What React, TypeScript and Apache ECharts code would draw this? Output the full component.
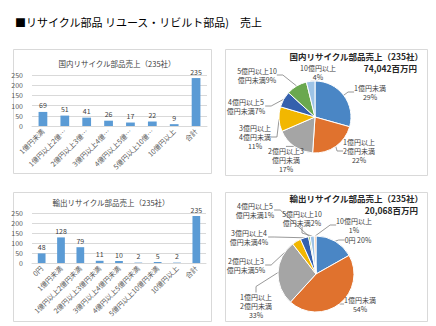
import React, { useEffect, useRef } from "react";
import * as echarts from "echarts";

const pageTitle = "■リサイクル部品 リユース・リビルト部品)　売上";

const domesticTitle = "国内リサイクル部品売上（235社）";
const domesticTotalText = "74,042百万円";
const domesticCategories = [
  "1億円未満",
  "1億円以上2億円未満",
  "2億円以上3億円未満",
  "3億円以上4億円未満",
  "4億円以上5億円未満",
  "5億円以上10億円未満",
  "10億円以上",
  "合計",
];
const domesticCounts = [69, 51, 41, 26, 17, 22, 9, 235];
const domesticPieLabels = [
  "1億円未満\n",
  "1億円以上\n2億円未満\n",
  "2億円以上3\n億円未満\n",
  "3億円以上\n4億円未満\n",
  "4億円以上5\n億円未満",
  "5億円以上10\n億円未満",
  "10億円以上\n",
];
const domesticPct = [29, 22, 17, 11, 7, 9, 4];

const exportTitle = "輸出リサイクル部品売上（235社）";
const exportTotalText = "20,068百万円";
const exportCategories = [
  "0円",
  "1億円未満",
  "1億円以上2億円未満",
  "2億円以上3億円未満",
  "3億円以上4億円未満",
  "4億円以上5億円未満",
  "5億円以上10億円未満",
  "10億円以上",
  "合計",
];
const exportCounts = [48, 128, 79, 11, 10, 2, 5, 2, 235];
const exportPieLabels = [
  "0円 ",
  "1億円未満\n",
  "1億円以上\n2億円未満\n",
  "2億円以上3\n億円未満",
  "3億円以上4\n億円未満",
  "4億円以上5\n億円未満",
  "5億円以上10\n億円未満",
  "10億円以上\n",
];
const exportPct = [20, 54, 33, 5, 4, 1, 2, 1];

const yTicks = { min: 0, max: 250, interval: 50 };

// label placement (label centres, page pixels) for the pie data labels
const domesticLabelPos: [number, number][] = [
  [370, 92],
  [359, 151],
  [286, 160],
  [255, 137],
  [246, 106],
  [257, 75],
  [318, 72],
];
const exportLabelPos: [number, number][] = [
  [358, 240],
  [360, 304],
  [256, 306],
  [246, 265],
  [249, 237],
  [255, 210],
  [302, 218],
  [354, 225],
];

const pieColors = [
  "#4a86c5",
  "#e0722e",
  "#a5a5a5",
  "#f2b700",
  "#3560ad",
  "#6aa84f",
  "#9dc3e6",
  "#f4b183",
];

const FONT = '"Noto Sans CJK JP", "Noto Sans", sans-serif';

function barXAxis(gridIndex: number, data: string[], truncate: boolean) {
  return {
    gridIndex,
    type: "category",
    data,
    axisTick: { show: false },
    axisLine: { lineStyle: { color: "#d9d9d9" } },
    axisLabel: {
      rotate: 45,
      interval: 0,
      fontSize: 7,
      color: "#595959",
      margin: 4,
      ...(truncate ? { width: 58, overflow: "truncate", ellipsis: "…" } : {}),
    },
  };
}

function barYAxis(gridIndex: number) {
  return {
    gridIndex,
    type: "value",
    ...yTicks,
    axisLine: { show: false },
    axisTick: { show: false },
    axisLabel: { fontSize: 7, color: "#595959", margin: 9 },
    splitLine: { lineStyle: { color: "#d9d9d9", width: 1 } },
  };
}

function barSeries(idx: number, data: number[]) {
  return {
    type: "bar",
    xAxisIndex: idx,
    yAxisIndex: idx,
    data,
    barWidth: "40%",
    itemStyle: { color: "#5b9bd5" },
    label: {
      show: true,
      position: "top",
      fontSize: 7,
      color: "#404040",
      distance: 3,
    },
  };
}

function pieSeries(
  center: [number, number],
  radius: number,
  names: string[],
  values: number[],
  labels: string[],
  pct: number[],
  labelPos: [number, number][]
) {
  return {
    type: "pie",
    center,
    radius,
    startAngle: 90,
    clockwise: true,
    avoidLabelOverlap: false,
    data: values.map((v, i) => ({
      name: names[i],
      value: v,
      itemStyle: { color: pieColors[i] },
    })),
    itemStyle: { borderColor: "#ffffff", borderWidth: 1 },
    label: {
      show: true,
      position: "outside",
      fontSize: 7,
      lineHeight: 9,
      color: "#404040",
      align: "center",
      formatter: (p: any) => labels[p.dataIndex] + pct[p.dataIndex] + "%",
    },
    labelLine: {
      show: true,
      length: 6,
      length2: 6,
      lineStyle: { color: "#7f7f7f", width: 0.8 },
    },
    labelLayout: (p: any) => {
      const pos = labelPos[p.dataIndex];
      return {
        x: pos[0],
        y: pos[1],
        align: "center",
        verticalAlign: "middle",
        hideOverlap: false,
      };
    },
  };
}

export default function App() {
  const ref = useRef<HTMLDivElement>(null);
  useEffect(() => {
    if (!ref.current) return;
    const chart = echarts.init(ref.current, undefined, { renderer: "svg" });
    const frame = (x: number, y: number, w: number, h: number) => ({
      type: "rect",
      shape: { x: x + 0.5, y: y + 0.5, width: w, height: h },
      style: { fill: "none", stroke: "#d9d9d9", lineWidth: 1 },
      silent: true,
      z: -1,
    });
    const txt = (
      x: number,
      y: number,
      text: string,
      size: number,
      align: string,
      bold: boolean,
      fill: string
    ) => ({
      type: "text",
      x,
      y,
      style: {
        text,
        fontSize: size,
        fontWeight: bold ? "bold" : "normal",
        fill,
        fontFamily: FONT,
        align,
        verticalAlign: "middle",
      },
    });
    chart.setOption({
      animation: false,
      backgroundColor: "#ffffff",
      textStyle: { fontFamily: FONT },
      graphic: [
        frame(13, 49, 198, 124),
        frame(225, 49, 202, 126),
        frame(13, 192, 198, 129),
        frame(225, 192, 202, 129),
        txt(15, 22, pageTitle, 11, "left", false, "#000000"),
        txt(117, 63, domesticTitle, 7.5, "center", false, "#404040"),
        txt(111, 202, exportTitle, 7.5, "center", false, "#404040"),
        txt(423, 56, domesticTitle, 8.5, "right", true, "#262626"),
        txt(417, 68, domesticTotalText, 8.5, "right", true, "#262626"),
        txt(423, 198, exportTitle, 8.5, "right", true, "#262626"),
        txt(418, 210, exportTotalText, 8.5, "right", true, "#262626"),
      ],
      grid: [
        { left: 32, top: 75, width: 175, height: 51 },
        { left: 32, top: 213, width: 174, height: 50 },
      ],
      xAxis: [
        barXAxis(0, domesticCategories, true),
        barXAxis(1, exportCategories, false),
      ],
      yAxis: [barYAxis(0), barYAxis(1)],
      series: [
        barSeries(0, domesticCounts),
        barSeries(1, exportCounts),
        pieSeries(
          [315, 117],
          36,
          domesticCategories.slice(0, 7),
          domesticCounts.slice(0, 7),
          domesticPieLabels,
          domesticPct,
          domesticLabelPos
        ),
        pieSeries(
          [316, 274],
          38,
          exportCategories.slice(0, 8),
          exportCounts.slice(0, 8),
          exportPieLabels,
          exportPct,
          exportLabelPos
        ),
      ],
    });
    return () => chart.dispose();
  }, []);
  return (
    <div
      ref={ref}
      style={{
        position: "absolute",
        left: 0,
        top: 0,
        width: 436,
        height: 326,
        background: "#fff",
      }}
    />
  );
}
